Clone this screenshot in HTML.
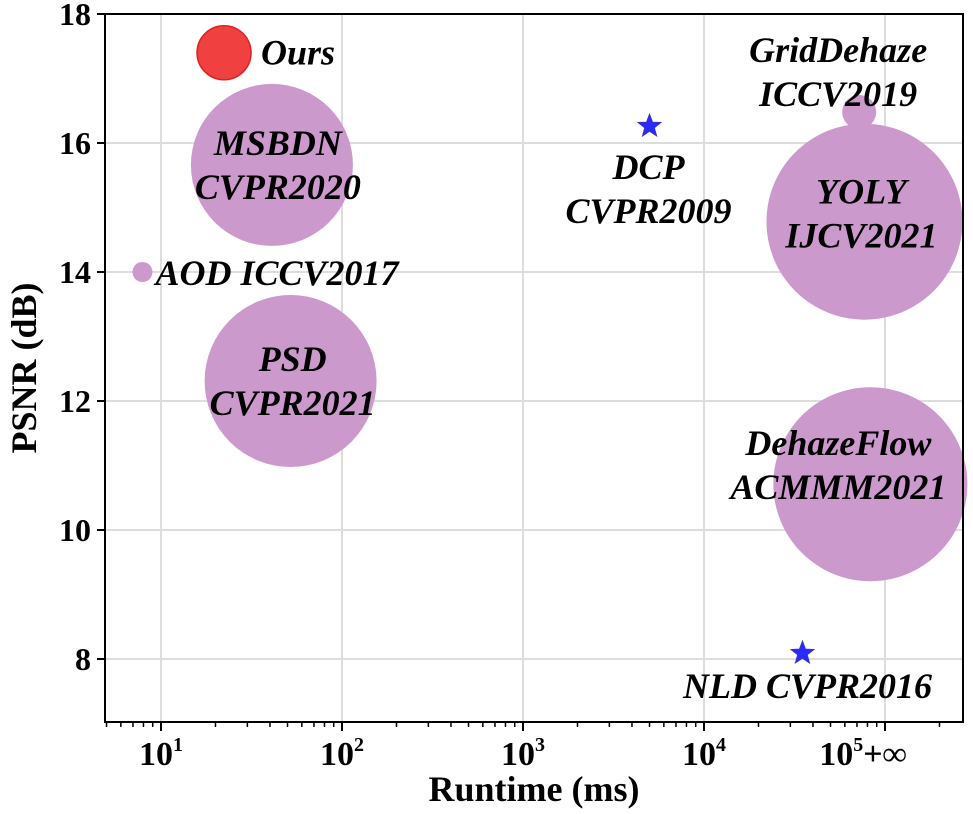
<!DOCTYPE html>
<html><head><meta charset="utf-8"><style>
body{margin:0;background:#fff;}
text{font-family:"Liberation Serif","Times New Roman",serif !important;font-weight:bold;}
.lbl{font-style:italic;font-size:36px;fill:#000;}
</style></head><body>
<svg id="chart" width="973" height="809" xmlns="http://www.w3.org/2000/svg" font-family="Liberation Serif, serif">
<g id="grid"></g>
<g id="marks"></g>
<g id="labels"></g>
<g id="axes"></g>
</svg>
<script>
const names = ["Ours","MSBDN","AOD","PSD","DCP","GridDehaze","YOLY","DehazeFlow","NLD"];
const runtimes = [22.3,41,7.9,52,5000,72000,77000,83000,35000];
const psnrs = [17.4,15.66,14.0,12.31,16.26,16.48,14.78,10.71,8.09];
const sizes = [27,81,10,86,0,17,98,97,0];
const kinds = ["ours","bubble","bubble","bubble","star","bubble","bubble","bubble","star"];
const labelLines = [["Ours"],["MSBDN","CVPR2020"],["AOD ICCV2017"],["PSD","CVPR2021"],["DCP","CVPR2009"],["GridDehaze","ICCV2019"],["YOLY","IJCV2021"],["DehazeFlow","ACMMM2021"],["NLD CVPR2016"]];
const yTicks = [8,10,12,14,16,18];
const xTickExps = [1,2,3,4,5];

const L=105,R=963,T=14,B=722;
const X0=161, PX_DEC=181;
function xs(v){return X0+(Math.log10(v)-1)*PX_DEC;}
function ys(v){return T+(18-v)*64.5;}
const NS="http://www.w3.org/2000/svg";
const FF='Liberation Serif, Times New Roman, serif';
function mk(tag,attrs,parent){const e=document.createElementNS(NS,tag);for(const k in attrs)e.setAttribute(k,attrs[k]);if(tag==='text')e.setAttribute('font-family',FF);parent.appendChild(e);return e;}
const grid=document.getElementById('grid'),marks=document.getElementById('marks'),labels=document.getElementById('labels'),axes=document.getElementById('axes');

yTicks.forEach(t=>{const l=mk('line',{x1:L,x2:R,y1:ys(t),y2:ys(t),stroke:'#ddd','stroke-width':2},grid);

});
xTickExps.forEach(e=>{const x=xs(Math.pow(10,e));const l=mk('line',{x1:x,x2:x,y1:T,y2:B,stroke:'#ddd','stroke-width':2},grid);

});

function starPath(cx,cy,ro,ri){let p='';for(let i=0;i<10;i++){const r=i%2?ri:ro;const a=-Math.PI/2+i*Math.PI/5;p+=(i?'L':'M')+(cx+r*Math.cos(a)).toFixed(1)+','+(cy+r*Math.sin(a)).toFixed(1);}return p+'Z';}
names.forEach((n,i)=>{const cx=xs(runtimes[i]),cy=ys(psnrs[i]);let e;
if(kinds[i]==='star'){e=mk('path',{d:starPath(cx,cy,12,5),fill:'#2a2aff',stroke:'#3333cc','stroke-width':1},marks);}
else if(kinds[i]==='ours'){e=mk('circle',{cx:cx,cy:cy,r:sizes[i],fill:'#f04040',stroke:'#e02020','stroke-width':1.5},marks);}
else{e=mk('circle',{cx:cx,cy:cy,r:sizes[i],fill:'#cc99cc'},marks);}

});

const offs=[[37,0,'start'],[6,-22,'middle'],[13,1,'start'],[2,-22,'middle'],[-1,41,'middle'],[-21,-62,'middle'],[-3,-30,'middle'],[-32,-41,'middle'],[5,33,'middle']];
names.forEach((n,i)=>{const cx=xs(runtimes[i]),cy=ys(psnrs[i]);const o=offs[i];
labelLines[i].forEach((s,j)=>{const t=mk('text',{x:cx+o[0],y:cy+o[1]+j*44+12,'text-anchor':o[2],class:'lbl','font-style':'italic','font-weight':'bold','font-size':36},labels);t.textContent=s;

});});

const fr=mk('rect',{x:L,y:T,width:R-L,height:B-T,fill:'none',stroke:'#000','stroke-width':2},axes);


yTicks.forEach(t=>{const y=ys(t);mk('line',{x1:L-8,x2:L,y1:y,y2:y,stroke:'#000','stroke-width':2},axes);
const tx=mk('text',{x:L-14,y:y+11,'text-anchor':'end','font-size':32,'font-weight':'bold'},axes);tx.textContent=t;

});
for(let e=0;e<=5;e++){for(let m=1;m<=9;m++){const v=m*Math.pow(10,e);const x=xs(v);if(x<L||x>R)continue;
mk('line',{x1:x,x2:x,y1:B,y2:B+(m===1?9:5),stroke:'#000','stroke-width':m===1?2:1.5},axes);}}
xTickExps.forEach(e=>{const x=xs(Math.pow(10,e));
const tx=mk('text',{x:x-(e===5?22:0),y:B+43,'text-anchor':'middle','font-size':34,'font-weight':'bold'},axes);


const a=document.createElementNS(NS,'tspan');a.textContent='10';tx.appendChild(a);
const b=document.createElementNS(NS,'tspan');b.setAttribute('dy','-14');b.setAttribute('font-size','20');b.textContent=e;tx.appendChild(b);
if(e===5){const c=document.createElementNS(NS,'tspan');c.setAttribute('dy','14');c.setAttribute('font-size','34');c.textContent='+∞';tx.appendChild(c);}});
const xt=mk('text',{x:534,y:801,'text-anchor':'middle','font-size':36,'font-weight':'bold'},axes);xt.textContent='Runtime (ms)';


const yt=mk('text',{x:0,y:0,'text-anchor':'middle','font-size':36,'font-weight':'bold',transform:'translate(36,368) rotate(-90)'},axes);yt.textContent='PSNR (dB)';


</script>
</body></html>
